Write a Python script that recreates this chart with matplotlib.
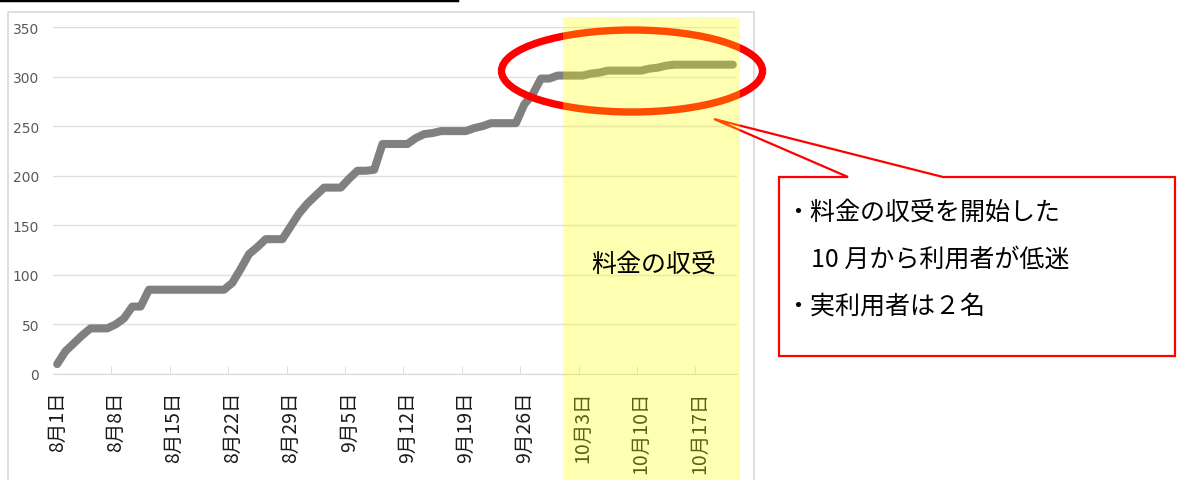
import matplotlib
matplotlib.use('Agg')
import matplotlib.pyplot as plt
from matplotlib.patches import Rectangle, Ellipse, Polygon
from matplotlib.lines import Line2D

plt.rcParams['font.family'] = ['Noto Sans CJK JP', 'DejaVu Sans']

# 利用者数の累計（8月1日からの日別）
values = [10, 23, 31, 39, 46, 46, 46, 50, 56, 68,
          68, 85, 85, 85, 85, 85, 85, 85, 85, 85,
          85, 92, 106, 121, 128, 136, 136, 136, 149, 162,
          172, 180, 188, 188, 188, 197, 205, 205, 206, 232,
          232, 232, 232, 238, 242, 243, 245, 245, 245, 245,
          248, 250, 253, 253, 253, 253, 272, 282, 298, 298,
          301, 301, 301, 301, 303, 304, 306, 306, 306, 306,
          306, 308, 309, 311, 312, 312, 312, 312, 312, 312,
          312, 312]
days = list(range(len(values)))

tick_days = [0, 7, 14, 21, 28, 35, 42, 49, 56, 63, 70, 77]
tick_labels = ['8月1日', '8月8日', '8月15日', '8月22日', '8月29日', '9月5日',
               '9月12日', '9月19日', '9月26日', '10月3日', '10月10日', '10月17日']
y_ticks = [0, 50, 100, 150, 200, 250, 300, 350]

fee_start = 60.5  # 10月1日から料金の収受

W, H = 1177, 481
fig = plt.figure(figsize=(W / 100, H / 100), dpi=100)


def fx(px):
    return px / W


def fy(py):
    return 1 - py / H


ax = fig.add_axes([fx(53), fy(375), fx(737) - fx(53), fy(28) - fy(375)])
ax.plot(days, values, color='#808080', lw=5.8, solid_capstyle='round',
        solid_joinstyle='round', zorder=3)

ax.set_yticks(y_ticks)
ax.set_yticklabels([str(v) for v in y_ticks], fontsize=10, color='#595959',
                   family=['DejaVu Sans'])
ax.tick_params(axis='y', length=0, pad=10)
ax.grid(axis='y', color='#e0e0e0', lw=1)
ax.set_axisbelow(True)

# 目盛り線（カテゴリの境界）と日付ラベル
ax.set_xticks([d - 0.5 for d in tick_days[1:]], minor=True)
ax.set_xticks(tick_days)
ax.set_xticklabels(tick_labels, rotation=90, fontsize=14, color='#1a1a1a')
ax.tick_params(axis='x', which='major', length=0, pad=12)
ax.tick_params(axis='x', which='minor', length=6, direction='in', color='#d9d9d9')
for label in ax.get_xticklabels():
    label.set_verticalalignment('top')

ax.set_xlim(-0.5, len(values) - 0.5)
ax.set_ylim(0, 350)

for s in ['left', 'right', 'top']:
    ax.spines[s].set_visible(False)
ax.spines['bottom'].set_color('#d9d9d9')

# グラフ外枠と上部の線
fig.add_artist(Line2D([fx(8), fx(8), fx(754), fx(754)], [0, fy(13), fy(13), 0],
                      transform=fig.transFigure, color='#d9d9d9', lw=1.2))
fig.add_artist(Line2D([0, fx(457)], [fy(1), fy(1)], transform=fig.transFigure,
                      color='black', lw=2.5))

# 赤い楕円
fig.add_artist(Ellipse((fx(632), fy(72)), fx(261), 82 / H, transform=fig.transFigure,
                       fill=False, edgecolor='#ff0000', lw=5.3, zorder=5))

# 料金収受期間の黄色い帯
fig.add_artist(Rectangle((fx(563), 0), fx(740) - fx(563), fy(18), transform=fig.transFigure,
                         facecolor='#ffff00', alpha=0.3, edgecolor='none', zorder=10))
fig.text(fx(591), fy(265), '料金の収受', fontsize=18, ha='left', va='center', zorder=11)

# 吹き出し
callout = [(779, 178), (848, 178), (714, 120), (943, 178), (1175, 178),
           (1175, 357), (779, 357)]
fig.add_artist(Polygon([(fx(x), fy(y)) for x, y in callout], closed=True,
                       transform=fig.transFigure, facecolor='white',
                       edgecolor='#ff0000', lw=1.6, zorder=6))
fig.text(fx(785), fy(213), '・料金の収受を開始した', fontsize=18, va='center', zorder=7)
fig.text(fx(811), fy(260), '10 月から利用者が低迷', fontsize=18, va='center', zorder=7)
fig.text(fx(785), fy(307), '・実利用者は２名', fontsize=18, va='center', zorder=7)

fig.savefig('out.png', dpi=100)
